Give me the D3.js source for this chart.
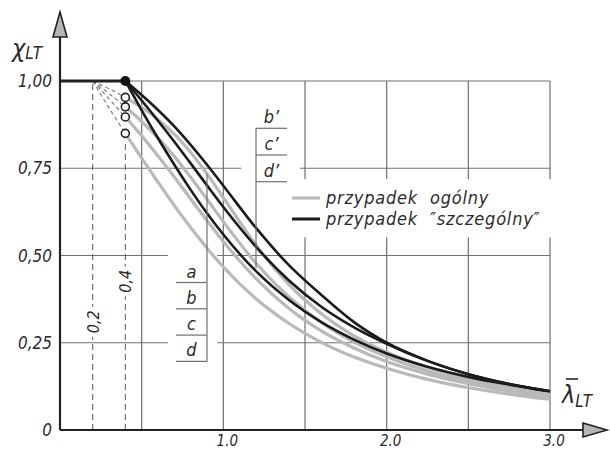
<!DOCTYPE html>
<html>
<head>
<meta charset="utf-8">
<script src="https://cdn.jsdelivr.net/npm/d3@7"></script>
<style>
  html, body { margin: 0; padding: 0; background: #fff; }
  svg text { font-family: "DejaVu Sans Condensed", "DejaVu Sans", sans-serif; font-style: italic; fill: #2a2a2a; white-space: pre; }
</style>
</head>
<body>
<div id="chart"></div>
<script>
const lamGeneral = [0.4, 0.5, 0.6, 0.7, 0.8, 0.9, 1.0, 1.2, 1.4, 1.6, 1.8, 2.0, 2.25, 2.5, 2.75, 3.0];
const lamSpecial = [0.4, 0.5, 0.6, 0.7, 0.8, 0.9, 1.0, 1.2, 1.4, 1.6, 1.8, 2.0, 2.25, 2.5, 2.75, 3.0];
const lamDashed = [0.2, 0.3, 0.4];

// przypadek ogólny (gray)
const chiA = [0.953, 0.924, 0.890, 0.848, 0.796, 0.734, 0.666, 0.530, 0.418, 0.333, 0.270, 0.223, 0.179, 0.147, 0.122, 0.104];
const chiB = [0.926, 0.884, 0.837, 0.784, 0.724, 0.661, 0.597, 0.478, 0.382, 0.308, 0.252, 0.210, 0.169, 0.140, 0.117, 0.099];
const chiC = [0.897, 0.843, 0.785, 0.725, 0.662, 0.600, 0.540, 0.434, 0.349, 0.284, 0.235, 0.196, 0.160, 0.133, 0.112, 0.095];
const chiD = [0.850, 0.779, 0.710, 0.643, 0.580, 0.521, 0.467, 0.376, 0.306, 0.251, 0.209, 0.177, 0.145, 0.121, 0.103, 0.088];

// dashed part between 0,2 and 0,4
const dashA = [1.0, 0.978, 0.953];
const dashB = [1.0, 0.964, 0.926];
const dashC = [1.0, 0.949, 0.897];
const dashD = [1.0, 0.923, 0.850];

// przypadek "szczególny" (black)
const chiB2 = [1.0, 0.960, 0.917, 0.870, 0.817, 0.760, 0.700, 0.579, 0.473, 0.387, 0.309, 0.250, 0.198, 0.160, 0.132, 0.111];
const chiC2 = [1.0, 0.944, 0.886, 0.826, 0.764, 0.701, 0.639, 0.525, 0.429, 0.353, 0.294, 0.247, 0.198, 0.160, 0.132, 0.111];
const chiD2 = [1.0, 0.916, 0.836, 0.760, 0.688, 0.621, 0.560, 0.455, 0.373, 0.309, 0.259, 0.219, 0.181, 0.152, 0.130, 0.111];

const yTicks = [0, 0.25, 0.5, 0.75, 1.0];
const yTickLabels = ["0", "0,25", "0,50", "0,75", "1,00"];
const xGrid = [0.5, 1.0, 1.5, 2.0, 2.5, 3.0];
const xTicks = [1, 2, 3];
const xTickLabels = ["1.0", "2.0", "3.0"];
const generalLabels = ["a", "b", "c", "d"];
const specialLabels = ["b\u2019", "c\u2019", "d\u2019"];
const legendLabels = ["przypadek  ogólny", "przypadek  \u2033szczególny\u2033"];

const W = 610, H = 450;
const svg = d3.select("#chart").append("svg")
    .attr("width", W)
    .attr("height", H)
    .attr("viewBox", `0 0 ${W} ${H}`);

const x = d3.scaleLinear().domain([0, 3]).range([60, 550]);
const y = d3.scaleLinear().domain([0, 1]).range([430, 81]);

const gridColor = "#707070";
const grid = svg.append("g");

// vertical grid lines
grid.selectAll("line.v")
    .data(xGrid)
    .enter()
    .append("line")
        .attr("x1", d => x(d)).attr("x2", d => x(d))
        .attr("y1", y(0)).attr("y2", y(1))
        .attr("stroke", gridColor)
        .attr("stroke-width", 1.2);

// horizontal grid lines
grid.selectAll("line.h")
    .data(yTicks.filter(d => d > 0))
    .enter()
    .append("line")
        .attr("x1", x(0)).attr("x2", x(3))
        .attr("y1", d => y(d)).attr("y2", d => y(d))
        .attr("stroke", gridColor)
        .attr("stroke-width", 1.2);

// white patches where labels sit on the grid
const patches = [
    [x(0.66), y(0.52), x(0.963) - x(0.66), y(0.22) - y(0.52)],
    [x(1.11), y(0.79), x(1.470) - x(1.11), y(0.72) - y(0.79)],
    [x(1.39), y(0.719), x(3.02) - x(1.39), y(0.552) - y(0.719)]
];
svg.selectAll("rect.patch")
    .data(patches)
    .enter()
    .append("rect")
        .attr("x", d => d[0]).attr("y", d => d[1])
        .attr("width", d => d[2]).attr("height", d => d[3])
        .attr("fill", "#fff");

// dashed marker lines at 0,2 and 0,4
svg.append("line")
    .attr("x1", x(0.2)).attr("x2", x(0.2))
    .attr("y1", y(0)).attr("y2", y(1))
    .attr("stroke", "#666").attr("stroke-width", 1.1)
    .attr("stroke-dasharray", "6,4");
svg.append("line")
    .attr("x1", x(0.4)).attr("x2", x(0.4))
    .attr("y1", y(0)).attr("y2", y(0.83))
    .attr("stroke", "#666").attr("stroke-width", 1.1)
    .attr("stroke-dasharray", "6,4");

[[0.2, 0.31, "0,2"], [0.4, 0.426, "0,4"]].forEach(d => {
    const cx = x(d[0]), cy = y(d[1]);
    svg.append("rect")
        .attr("x", cx - 8).attr("y", cy - 15)
        .attr("width", 16).attr("height", 30)
        .attr("fill", "#fff");
    svg.append("text")
        .attr("transform", `translate(${cx + 6},${cy}) rotate(-90)`)
        .attr("text-anchor", "middle")
        .attr("font-size", 16)
        .text(d[2]);
});

// curves
const line = d3.line()
    .x(d => x(d[0]))
    .y(d => y(d[1]))
    .curve(d3.curveMonotoneX);

const dashSeries = [dashA, dashB, dashC, dashD];
svg.selectAll("path.dash")
    .data(dashSeries)
    .enter()
    .append("path")
        .attr("d", s => line(lamDashed.map((l, i) => [l, s[i]])))
        .attr("fill", "none")
        .attr("stroke", "#777")
        .attr("stroke-width", 1.1)
        .attr("stroke-dasharray", "4,3");

const generalSeries = [chiA, chiB, chiC, chiD];
svg.selectAll("path.general")
    .data(generalSeries)
    .enter()
    .append("path")
        .attr("d", s => line(lamGeneral.map((l, i) => [l, s[i]])))
        .attr("fill", "none")
        .attr("stroke", "#b9b9b9")
        .attr("stroke-width", 3.2);

const specialSeries = [chiB2, chiC2, chiD2];
svg.selectAll("path.special")
    .data(specialSeries)
    .enter()
    .append("path")
        .attr("d", s => line(lamSpecial.map((l, i) => [l, s[i]])))
        .attr("fill", "none")
        .attr("stroke", "#1b1b1b")
        .attr("stroke-width", 2.6);

// plateau at 1,00
svg.append("line")
    .attr("x1", x(0)).attr("x2", x(0.4))
    .attr("y1", y(1)).attr("y2", y(1))
    .attr("stroke", "#222").attr("stroke-width", 3.2);

// circles at 0,4 on the general curves
svg.selectAll("circle.open")
    .data(generalSeries.map(s => s[0]))
    .enter()
    .append("circle")
        .attr("cx", x(0.4))
        .attr("cy", d => y(d))
        .attr("r", 4)
        .attr("fill", "#fff")
        .attr("stroke", "#222")
        .attr("stroke-width", 1.6);

svg.append("circle")
    .attr("cx", x(0.4)).attr("cy", y(1))
    .attr("r", 5)
    .attr("fill", "#111");

// label blocks a..d and b'..d' (underlines, leader line up to a curve)
function labelBlock(labels, xLine, xLeft, yFirst, step, yLeadTop, yLeadBottom) {
    const g = svg.append("g");
    g.append("line")
        .attr("x1", xLine).attr("x2", xLine)
        .attr("y1", yLeadTop).attr("y2", yLeadBottom)
        .attr("stroke", gridColor).attr("stroke-width", 1.2);
    labels.forEach((lab, i) => {
        const yl = yFirst + i * step;
        g.append("line")
            .attr("x1", xLeft).attr("x2", xLine)
            .attr("y1", yl).attr("y2", yl)
            .attr("stroke", gridColor).attr("stroke-width", 1.2);
        g.append("text")
            .attr("x", (xLeft + xLine) / 2)
            .attr("y", yl - 5)
            .attr("text-anchor", "middle")
            .attr("font-size", 18)
            .text(lab);
    });
}
const yA = y(0.5) + 27, stepA = 26.3;
labelBlock(generalLabels, x(0.9), x(0.71), yA, stepA, y(chiA[5]), yA + 3 * stepA);
const yB2 = y(1) + 47.3, stepB2 = 26.7;
labelBlock(specialLabels, x(1.2), x(1.39), yB2, stepB2, yB2, y(chiD2[7]) - 3);

// axes
svg.append("line")
    .attr("x1", x(0)).attr("x2", 590)
    .attr("y1", y(0)).attr("y2", y(0))
    .attr("stroke", "#222").attr("stroke-width", 2.2);
svg.append("line")
    .attr("x1", x(0)).attr("x2", x(0))
    .attr("y1", y(0)).attr("y2", 30)
    .attr("stroke", "#222").attr("stroke-width", 2.2);

svg.append("path")
    .attr("d", `M${x(0) - 7},37 L${x(0)},12 L${x(0) + 7},37 Z`)
    .attr("fill", "#b5b5b5").attr("stroke", "#222").attr("stroke-width", 1.6);
svg.append("path")
    .attr("d", `M583,${y(0) - 7} L607,${y(0)} L583,${y(0) + 7} Z`)
    .attr("fill", "#b5b5b5").attr("stroke", "#222").attr("stroke-width", 1.6);

// tick labels
svg.selectAll("text.ytick")
    .data(yTicks)
    .enter()
    .append("text")
        .attr("x", 52)
        .attr("y", d => y(d) + 6)
        .attr("text-anchor", "end")
        .attr("font-size", 17)
        .text((d, i) => yTickLabels[i]);

svg.selectAll("text.xtick")
    .data(xTicks)
    .enter()
    .append("text")
        .attr("x", d => x(d) + 4)
        .attr("y", 446)
        .attr("text-anchor", "middle")
        .attr("font-size", 15)
        .text((d, i) => xTickLabels[i]);

// axis titles
const yTitle = svg.append("text").attr("x", 12).attr("y", 57);
yTitle.append("tspan").attr("font-size", 25).text("\u03c7");
yTitle.append("tspan").attr("font-size", 17).attr("dy", 2).text("LT");

const xTitle = svg.append("text").attr("x", 562).attr("y", 403);
xTitle.append("tspan").attr("font-size", 25).text("\u03bb");
xTitle.append("tspan").attr("font-size", 17).attr("dy", 4).text("LT");
svg.append("line")
    .attr("x1", 566).attr("x2", 578)
    .attr("y1", 379).attr("y2", 379)
    .attr("stroke", "#222").attr("stroke-width", 1.6);

// legend
const legendColors = ["#b9b9b9", "#1b1b1b"];
legendLabels.forEach((lab, i) => {
    const ly = 198 + i * 21;
    svg.append("line")
        .attr("x1", 292).attr("x2", 320)
        .attr("y1", ly).attr("y2", ly)
        .attr("stroke", legendColors[i])
        .attr("stroke-width", 3);
    svg.append("text")
        .attr("x", 326)
        .attr("y", ly + 6)
        .attr("font-size", 18)
        .attr("letter-spacing", 0.8)
        .text(lab);
});
</script>
</body>
</html>
